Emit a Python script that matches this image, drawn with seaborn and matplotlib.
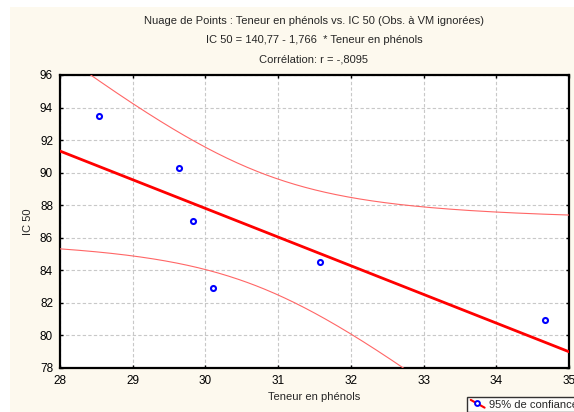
import numpy as np
import pandas as pd
import matplotlib
matplotlib.use("Agg")
import matplotlib.pyplot as plt
import seaborn as sns
from matplotlib.patches import Rectangle
from matplotlib.lines import Line2D
from matplotlib.legend_handler import HandlerBase

# Data
phenols = [28.54, 29.63, 29.83, 30.11, 31.58, 34.67]
ic50 = [93.5, 90.3, 87.0, 82.9, 84.5, 80.95]
xticks = [28, 29, 30, 31, 32, 33, 34, 35]
yticks = [78, 80, 82, 84, 86, 88, 90, 92, 94, 96]
title_lines = [
    "Nuage de Points : Teneur en phénols vs. IC 50 (Obs. à VM ignorées)",
    "IC 50 = 140,77 - 1,766  * Teneur en phénols",
    "Corrélation: r = -,8095",
]

df = pd.DataFrame({"Teneur en phénols": phenols, "IC 50": ic50})

sns.set_theme(style="white")
plt.rcParams['font.family'] = ['Liberation Sans', 'DejaVu Sans']

fig = plt.figure(figsize=(5.74, 4.12), dpi=100)
fig.patch.set_facecolor("white")
fig.patches.append(Rectangle((10/574, 0), 1, 1 - 7/412, transform=fig.transFigure,
                             facecolor="#fdf9ee", edgecolor="none", zorder=-10))
ax = fig.add_axes([60/574, 1 - 368/412, (569 - 60)/574, (368 - 75)/412])
ax.set_facecolor("white")

# regression line and 95% confidence bands
x = np.array(phenols); y = np.array(ic50)
n = len(x)
b, a = np.polyfit(x, y, 1)
xs = np.linspace(28, 35, 300)
yhat = a + b * xs
resid = y - (a + b * x)
s = np.sqrt(np.sum(resid**2) / (n - 2))
t = 2.776
se = s * np.sqrt(1/n + (xs - x.mean())**2 / np.sum((x - x.mean())**2))
sns.lineplot(x=xs, y=yhat, color="#ff0000", lw=2, ax=ax, zorder=3)
sns.lineplot(x=xs, y=yhat + t*se, color="#ff6666", lw=0.8, ax=ax, zorder=3)
sns.lineplot(x=xs, y=yhat - t*se, color="#ff6666", lw=0.8, ax=ax, zorder=3)

sns.scatterplot(data=df, x="Teneur en phénols", y="IC 50", ax=ax, marker="o", s=13,
                facecolor="white", edgecolor="#0000ff", linewidth=1.5, zorder=4)

ax.set_xlim(28, 35)
ax.set_ylim(78, 96)
ax.set_xticks(xticks)
ax.set_yticks(yticks)
ax.set_xticklabels([str(v) for v in xticks], fontsize=8.5)
ax.set_yticklabels([str(v) for v in yticks], fontsize=8.5)
ax.grid(True, color="#c8c8c8", linestyle=(0, (3, 2)), linewidth=0.8)
ax.tick_params(direction="in", length=2, width=1, colors="black",
               top=True, right=True, bottom=True, left=True)
ax.tick_params(axis="x", pad=5)
ax.tick_params(axis="y", pad=5)
for sp in ax.spines.values():
    sp.set_color("black")
    sp.set_linewidth(1.6)
ax.set_xlabel("Teneur en phénols", fontsize=8, labelpad=4)
ax.set_ylabel("IC 50", fontsize=8, labelpad=5)

for i, line in enumerate(title_lines):
    fig.text(314/574, 1 - (21 + i*19)/412, line, ha="center", va="center", fontsize=8)


class DiagHandler(HandlerBase):
    def create_artists(self, legend, orig, xd, yd, w, h, fs, trans):
        ln = Line2D([xd + 1, xd + w - 1], [yd + h, yd], color="#ff0000", lw=1.5,
                    transform=trans)
        mk = Line2D([xd + w * 0.45], [yd + h * 0.55], marker="o", color="none",
                    markerfacecolor="white", markeredgecolor="#0000ff",
                    markersize=3.5, markeredgewidth=1.4, transform=trans)
        return [ln, mk]


handle = Line2D([0], [0], color="#ff0000")
leg = fig.legend([handle], ["95% de confiance"], loc="lower left",
                 handler_map={Line2D: DiagHandler()},
                 bbox_to_anchor=(461/574, -6/412), fontsize=8, frameon=True,
                 handlelength=1.5, handletextpad=0.3, borderpad=0.25, fancybox=False)
leg.get_frame().set_edgecolor("black")
leg.get_frame().set_linewidth(1)
leg.get_frame().set_facecolor("white")

fig.savefig("out.png", dpi=100)
